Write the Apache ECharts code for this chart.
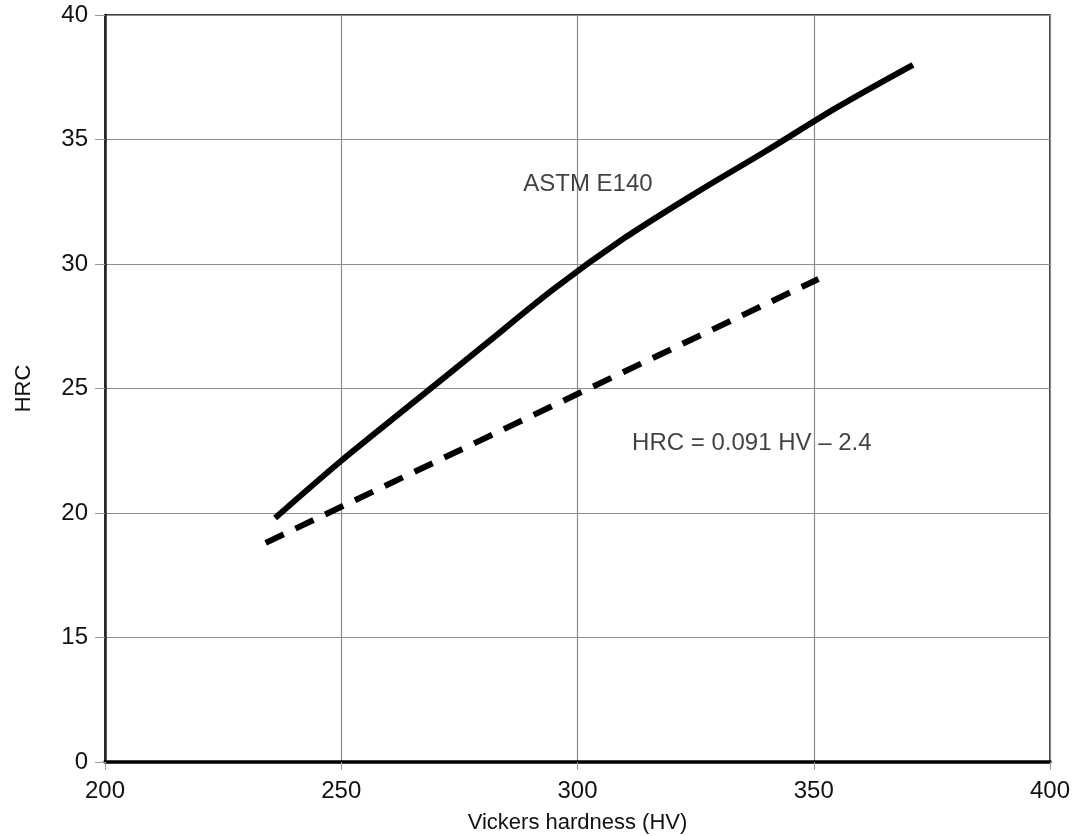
<!DOCTYPE html>
<html>
<head>
<meta charset="utf-8">
<script src="https://cdn.jsdelivr.net/npm/echarts@6/dist/echarts.min.js"></script>
<style>
html,body{margin:0;padding:0;background:#fff;}
#chart{width:1075px;height:836px;}
</style>
</head>
<body>
<div id="chart"></div>
<script>
// ASTM E140 conversion curve (HV, HRC)
const astmHV  = [236, 250, 265, 280, 295, 310, 325, 340, 355, 371];
const astmHRC = [19.8, 22.1, 24.4, 26.7, 29.0, 31.05, 32.85, 34.55, 36.3, 38.0];
// Linear fit HRC = 0.091 HV - 2.4 (end points)
const fitHV  = [234, 351];
const fitHRC = [18.8, 29.4];
// axis ticks
const xTicks = [200, 250, 300, 350, 400];
const yTicks = [10, 15, 20, 25, 30, 35, 40];
const yTickLabels = ['0', '15', '20', '25', '30', '35', '40'];
// annotations
const noteText = ['ASTM E140', 'HRC = 0.091 HV \u2013 2.4'];
const noteHV   = [302.2, 336.9];
const noteHRC  = [33.2, 22.8];

const FONT = 'Liberation Sans, Arial, sans-serif';
const TXT = '#111';
const chart = echarts.init(document.getElementById('chart'), null, {renderer: 'canvas'});

const option = {
  animation: false,
  backgroundColor: '#fff',
  grid: {left: 105, right: 25, top: 15, bottom: 74, containLabel: false, outerBoundsMode: 'none',
         show: true, borderColor: '#000', borderWidth: 1.5},
  xAxis: {
    type: 'value', min: xTicks[0], max: xTicks[xTicks.length - 1], interval: 50,
    name: 'Vickers hardness (HV)', nameLocation: 'middle', nameGap: 50,
    nameTextStyle: {fontFamily: FONT, fontSize: 22, color: TXT},
    axisLine: {show: true, onZero: false, lineStyle: {color: '#000', width: 3.5}},
    axisTick: {show: true, length: 8, lineStyle: {color: '#999'}},
    axisLabel: {fontFamily: FONT, fontSize: 24, color: TXT, margin: 17},
    splitLine: {show: true, lineStyle: {color: '#8c8c8c', width: 1.2}}
  },
  yAxis: {
    type: 'value', min: yTicks[0], max: yTicks[yTicks.length - 1], interval: 5,
    name: 'HRC', nameLocation: 'middle', nameGap: 70,
    nameTextStyle: {fontFamily: FONT, fontSize: 22, color: TXT},
    axisLine: {show: true, onZero: false, lineStyle: {color: '#222', width: 2.5}},
    axisTick: {show: true, length: 10, lineStyle: {color: '#999'}},
    axisLabel: {
      fontFamily: FONT, fontSize: 24, color: TXT, margin: 17,
      formatter: function (v) { const i = yTicks.indexOf(v); return i >= 0 ? yTickLabels[i] : ''; }
    },
    splitLine: {show: true, lineStyle: {color: '#8c8c8c', width: 1.2}}
  },
  series: [
    {
      type: 'line', name: 'ASTM E140',
      data: astmHV.map((v, i) => [v, astmHRC[i]]),
      smooth: 0.3, showSymbol: false, symbol: 'none',
      lineStyle: {color: '#000', width: 6, cap: 'butt'},
      z: 5
    },
    {
      type: 'line', name: 'fit',
      data: fitHV.map((v, i) => [v, fitHRC[i]]),
      showSymbol: false, symbol: 'none',
      lineStyle: {color: '#000', width: 6, type: [20, 13], cap: 'butt'},
      z: 5
    },
    {
      type: 'scatter', name: 'notes',
      data: noteHV.map((v, i) => ({value: [v, noteHRC[i]], label: {formatter: noteText[i]}})),
      symbolSize: 0, silent: true,
      label: {show: true, position: 'inside', fontFamily: FONT, fontSize: 24, color: TXT},
      z: 6
    }
  ]
};
chart.setOption(option);
</script>
</body>
</html>
